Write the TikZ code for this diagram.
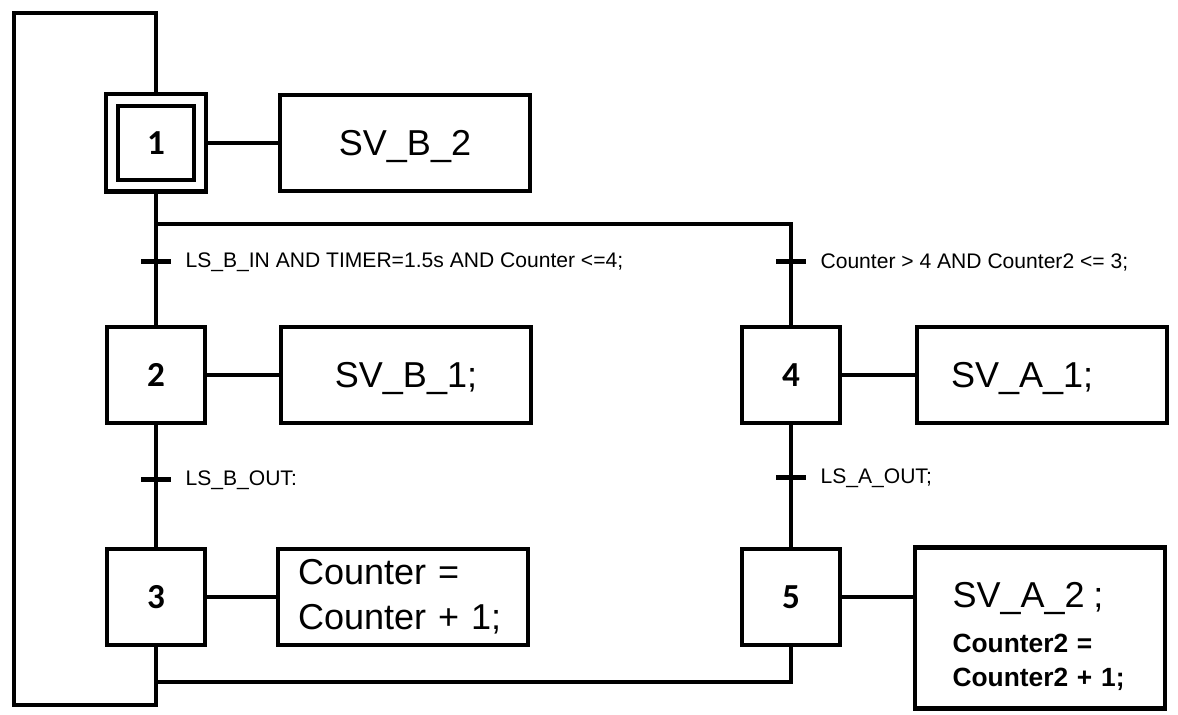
\documentclass[tikz,border=0pt]{standalone}
\usepackage{fontspec}
\setmainfont{Liberation Sans}
\newfontfamily\stepfont{Carlito}
\usetikzlibrary{positioning}
\tikzset{
  grafcet/.style={
    line width=2.6pt,
    line join=miter
  },
  step-box/.style={
    draw,
    rectangle,
    fill=white,
    line width=2.6pt,
    minimum width=1.96cm,
    minimum height=1.92cm,
    inner sep=0pt,
    font=\stepfont\fontsize{20}{23}\selectfont\bfseries
  },
  init-box/.style={
    step-box,
    double,
    double distance=4pt,
    outer sep=4.6pt,
    minimum width=1.76cm,
    minimum height=1.72cm
  },
  act-box/.style={
    draw,
    rectangle,
    line width=2.6pt,
    minimum width=5cm,
    minimum height=1.92cm,
    inner sep=0pt,
    font=\fontsize{20.5}{25.6}\selectfont
  },
  act-line/.style={
    act-box,
    text depth=0pt
  },
  trans-bar/.style={
    rectangle,
    fill=black,
    minimum width=0.6cm,
    minimum height=0.1cm,
    inner sep=0pt
  },
  cond-label/.style={
    inner sep=0pt,
    font=\fontsize{12}{14}\selectfont
  }
}
\newcommand{\grafcetframe}{%
  \useasboundingbox (0,0) rectangle (1178,715);
}

\begin{document}
\begin{tikzpicture}[x=0.02cm, y=-0.02cm, grafcet]
  \grafcetframe
  % steps
  \node[init-box] (s1) at (156,143) {1};
  \node[step-box] (s2) at (156,375) {2};
  \node[step-box] (s3) at (156,597) {3};
  \node[step-box] (s4) at (791,375) {4};
  \node[step-box] (s5) at (791,597) {5};
  % actions
  \node[act-line] (a1) at (405,143) {SV\_B\_2};
  \node[act-line] (a2) at (406,375) {SV\_B\_1;};
  \node[act-box, text width=4.2cm, inner xsep=0.4cm, align=left] (a3) at (403,597)
    {Counter =\\Counter + 1;};
  \node[act-line, text width=3.64cm, inner xsep=0.68cm, align=left] (a4) at (1042,375)
    {SV\_A\_1;};
  \node[act-box, text width=3.5cm, inner xsep=0.75cm, align=left,
        minimum height=3.22cm, font=\fontsize{15}{19.4}\selectfont\bfseries] (a5) at (1040,628)
    {{\fontsize{20.5}{25.6}\mdseries\selectfont\rule{0pt}{24pt}SV\_A\_2 ;}\\[6pt]Counter2 =\\Counter2 + 1;};
  % links to actions
  \draw (s1) -- (a1);
  \draw (s2) -- (a2);
  \draw (s3) -- (a3);
  \draw (s4) -- (a4);
  \draw (s5) -- (s5 -| a5.west);
  % sequences
  \coordinate (split) at (156,224);
  \coordinate (join) at (156,682);
  \coordinate (loop-bl) at (14,705);
  \coordinate (loop-tl) at (14,13);
  \draw (s1) -- (s2);
  \draw (split) -| (s4);
  \draw (s2) -- (s3);
  \draw (s4) -- (s5);
  \draw (s5) |- (join);
  \draw (s3) |- (loop-bl) -- (loop-tl) -| (s1);
  % transitions
  \node[trans-bar] (t1) at (156,262) {};
  \node[cond-label, right=0.2cm of t1] (c1) {LS\_B\_IN AND TIMER=1.5s AND Counter <=4;};
  \node[trans-bar] (t2) at (156,480) {};
  \node[cond-label, right=0.2cm of t2] (c2) {LS\_B\_OUT:};
  \node[trans-bar] (t3) at (791,262) {};
  \node[cond-label, right=0.2cm of t3] (c3) {Counter > 4 AND Counter2 <= 3;};
  \node[trans-bar] (t4) at (791,478) {};
  \node[cond-label, right=0.2cm of t4] (c4) {LS\_A\_OUT;};
\end{tikzpicture}
\end{document}
